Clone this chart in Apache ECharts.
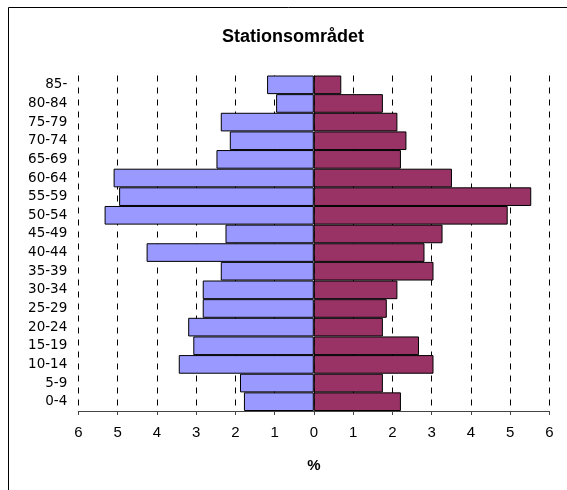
<!DOCTYPE html>
<html>
<head>
<meta charset="utf-8">
<script src="https://cdn.jsdelivr.net/npm/echarts@6/dist/echarts.min.js"></script>
<style>html,body{margin:0;padding:0;background:#fff;}#c{width:567px;height:490px;}</style>
</head>
<body>
<div id="c"></div>
<script>
const titleText = 'Stationsområdet';
const axisName = '%';
const categories = ['0-4','5-9','10-14','15-19','20-24','25-29','30-34','35-39','40-44','45-49','50-54','55-59','60-64','65-69','70-74','75-79','80-84','85-'];
const leftValues  = [1.78,1.88,3.44,3.07,3.20,2.83,2.83,2.37,4.26,2.25,5.33,4.96,5.10,2.48,2.14,2.37,0.96,1.19];
const rightValues = [2.22,1.76,3.05,2.68,1.76,1.86,2.13,3.05,2.82,3.28,4.94,5.54,3.52,2.22,2.36,2.13,1.76,0.70];

const chart = echarts.init(document.getElementById('c'), null, {renderer: 'canvas'});
chart.setOption({
  animation: false,
  backgroundColor: '#ffffff',
  title: {
    text: titleText,
    left: 288,
    top: 23,
    textAlign: 'center',
    textStyle: {fontFamily: 'Liberation Sans', fontWeight: 'bold', fontSize: 18, color: '#000'}
  },
  graphic: [{
    type: 'rect',
    shape: {x: 8.5, y: 7.5, width: 800, height: 800},
    style: {fill: 'none', stroke: '#000', lineWidth: 1},
    silent: true
  }],
  grid: {left: 78.3, right: 17.7, top: 75.5, bottom: 79, containLabel: false},
  xAxis: {
    type: 'value',
    min: -6, max: 6, interval: 1,
    name: axisName,
    nameLocation: 'middle',
    nameGap: 47,
    nameTextStyle: {fontFamily: 'Liberation Sans', fontWeight: 'bold', fontSize: 15, color: '#000'},
    axisLine: {show: true, onZero: false, lineStyle: {color: '#444', width: 1}},
    axisTick: {show: true, length: 4, lineStyle: {color: '#444'}},
    axisLabel: {
      margin: 14,
      fontFamily: 'Liberation Sans', fontSize: 15, color: '#000',
      formatter: v => String(Math.abs(v))
    },
    splitLine: {show: true, lineStyle: {color: '#000', type: [6, 6], width: 1}}
  },
  yAxis: {
    type: 'category',
    data: categories,
    axisLine: {show: false, onZero: false},
    axisTick: {show: false},
    axisLabel: {margin: 11, fontFamily: 'DejaVu Sans', fontSize: 13.5, color: '#000'},
    splitLine: {show: false}
  },
  series: [
    {
      type: 'bar',
      data: leftValues.map(v => -v),
      barCategoryGap: 0,
      barGap: '-100%',
      itemStyle: {color: '#9999FF', borderColor: '#000', borderWidth: 1}
    },
    {
      type: 'bar',
      data: rightValues,
      barCategoryGap: 0,
      barGap: '-100%',
      itemStyle: {color: '#993366', borderColor: '#000', borderWidth: 1}
    }
  ]
});
</script>
</body>
</html>
